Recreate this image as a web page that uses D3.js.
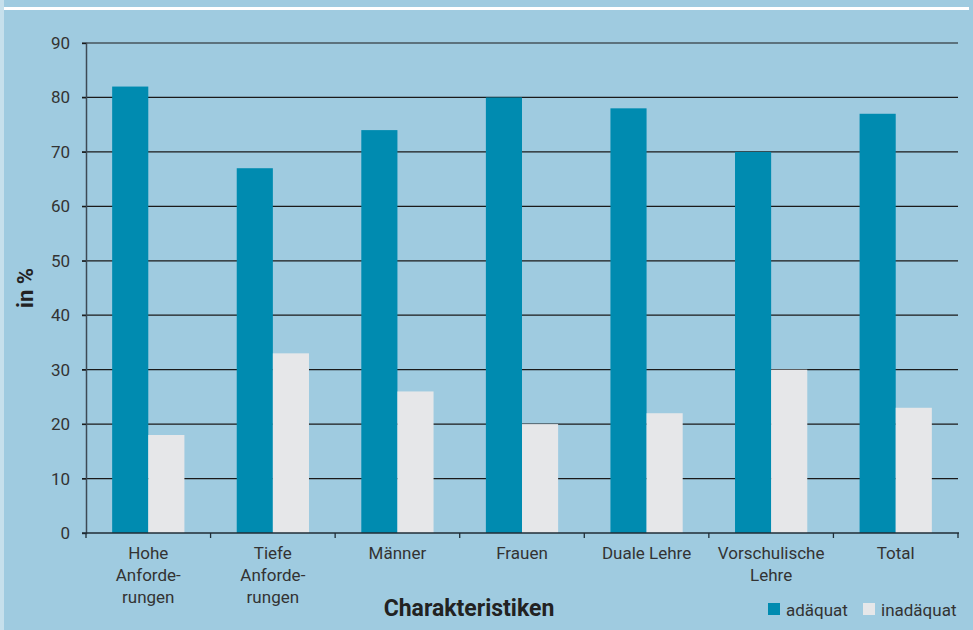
<!DOCTYPE html>
<html lang="de">
  <head>
    <meta charset="UTF-8">
    <script type="text/javascript" src="https://cdn.jsdelivr.net/npm/d3@7"></script>
    <style>
      body { margin: 0; background: #ffffff; }
      .axis text {
        font-family: Roboto, sans-serif;
        font-size: 17px;
        fill: #333;
      }
    </style>
    <title>Charakteristiken</title>
  </head>
  <body>
    <script type="text/javascript">
      let w = 973;
      let h = 630;

      // data
      let categories = [
        ['Hohe', 'Anforde-', 'rungen'],
        ['Tiefe', 'Anforde-', 'rungen'],
        ['Männer'],
        ['Frauen'],
        ['Duale Lehre'],
        ['Vorschulische', 'Lehre'],
        ['Total']
      ];
      let seriesNames = ['adäquat', 'inadäquat'];
      let adaequat = [82, 67, 74, 80, 78, 70, 77];
      let inadaequat = [18, 33, 26, 20, 22, 30, 23];
      let yTicks = [0, 10, 20, 30, 40, 50, 60, 70, 80, 90];

      let colors = ['#008bb0', '#e6e7e9'];
      let margin = {left: 86, right: 15, top: 43, bottom: 97};

      let svg = d3.select('body')
                  .append('svg')
                  .attr('width', w)
                  .attr('height', h)
                  .style('display', 'block');

      // background + white strip at the top
      svg.append('rect')
          .attr('x', 0).attr('y', 0)
          .attr('width', w).attr('height', h)
          .attr('fill', '#c6e0ec');
      svg.append('rect')
          .attr('x', 4).attr('y', 0)
          .attr('width', w - 4).attr('height', h)
          .attr('fill', '#9fcbe0');
      svg.append('rect')
          .attr('x', 4).attr('y', 7)
          .attr('width', w - 8).attr('height', 3)
          .attr('fill', '#ffffff');

      let idx = d3.range(categories.length);

      let xScale = d3.scaleBand()
                      .domain(idx)
                      .range([margin.left, w - margin.right])
                      .paddingInner(0.42)
                      .paddingOuter(0.21);
      let xOuter = d3.scaleBand()
                      .domain(idx)
                      .range([margin.left, w - margin.right]);
      let xInner = d3.scaleBand()
                      .domain([0, 1])
                      .range([0, xScale.bandwidth()]);
      let yScale = d3.scaleLinear()
                      .domain([0, 90])
                      .range([h - margin.bottom, margin.top]);

      // gridlines
      svg.append('g')
          .selectAll('line')
          .data(yTicks.slice(1))
          .enter()
          .append('line')
          .attr('x1', margin.left - 4)
          .attr('x2', w - margin.right)
          .attr('y1', d => yScale(d))
          .attr('y2', d => yScale(d))
          .attr('stroke', '#1a1a1a')
          .attr('stroke-width', 1.2);

      // bars
      let data = idx.map(i => [adaequat[i], inadaequat[i]]);
      let groups = svg.append('g')
          .selectAll('g')
          .data(data)
          .enter()
          .append('g')
          .attr('transform', (d, i) => 'translate(' + xScale(i) + ',0)');
      groups.selectAll('rect')
          .data(d => d)
          .enter()
          .append('rect')
          .attr('x', (d, j) => xInner(j))
          .attr('width', xInner.bandwidth())
          .attr('y', d => yScale(d))
          .attr('height', d => yScale(0) - yScale(d))
          .attr('fill', (d, j) => colors[j]);

      // y axis
      let yAxis = d3.axisLeft(yScale)
                    .tickValues(yTicks)
                    .tickSize(4)
                    .tickPadding(12);
      let gy = svg.append('g')
          .attr('class', 'axis')
          .attr('transform', 'translate(' + margin.left + ',0)')
          .call(yAxis);
      gy.select('.domain').attr('stroke', '#3c4a55').attr('stroke-width', 1.5);
      gy.selectAll('.tick line').attr('stroke', '#1a1a1a');

      // x axis with boundary ticks
      let bottom = yScale(0);
      let ax = svg.append('g').attr('class', 'axis');
      ax.append('line')
          .attr('x1', margin.left - 4)
          .attr('x2', w - margin.right + 1)
          .attr('y1', bottom).attr('y2', bottom)
          .attr('stroke', '#1f2d36')
          .attr('stroke-width', 1.5);
      ax.selectAll('.bt')
          .data(d3.range(categories.length + 1))
          .enter()
          .append('line')
          .attr('class', 'bt')
          .attr('x1', i => i < categories.length ? xOuter(i) : w - margin.right)
          .attr('x2', i => i < categories.length ? xOuter(i) : w - margin.right)
          .attr('y1', bottom).attr('y2', bottom + 5)
          .attr('stroke', '#1f2d36')
          .attr('stroke-width', 1.3);

      ax.selectAll('text.cat')
          .data(categories)
          .enter()
          .append('text')
          .attr('class', 'cat')
          .attr('text-anchor', 'middle')
          .attr('x', (d, i) => xOuter(i) + xOuter.bandwidth() / 2)
          .attr('y', bottom + 26)
          .each(function(d) {
            let t = d3.select(this);
            d.forEach((line, k) => {
              t.append('tspan')
                .attr('x', t.attr('x'))
                .attr('dy', k === 0 ? 0 : 22)
                .text(line);
            });
          });

      // axis titles
      svg.append('text')
          .attr('x', 469)
          .attr('y', 616)
          .attr('text-anchor', 'middle')
          .attr('font-family', 'Roboto, sans-serif')
          .attr('font-weight', 'bold')
          .attr('font-size', '23px')
          .attr('fill', '#222')
          .text('Charakteristiken');
      svg.append('text')
          .attr('transform', 'translate(33,288) rotate(-90)')
          .attr('text-anchor', 'middle')
          .attr('font-family', 'Roboto, sans-serif')
          .attr('font-weight', 'bold')
          .attr('font-size', '22px')
          .attr('fill', '#222')
          .text('in %');

      // legend
      let legendX = [768, 863];
      let legend = svg.append('g').attr('class', 'axis');
      legend.selectAll('rect')
          .data(seriesNames)
          .enter()
          .append('rect')
          .attr('x', (d, i) => legendX[i])
          .attr('y', 603)
          .attr('width', 12)
          .attr('height', 12)
          .attr('fill', (d, i) => colors[i]);
      legend.selectAll('text')
          .data(seriesNames)
          .enter()
          .append('text')
          .attr('x', (d, i) => legendX[i] + 18)
          .attr('y', 616)
          .text(d => d);
    </script>
  </body>
</html>
